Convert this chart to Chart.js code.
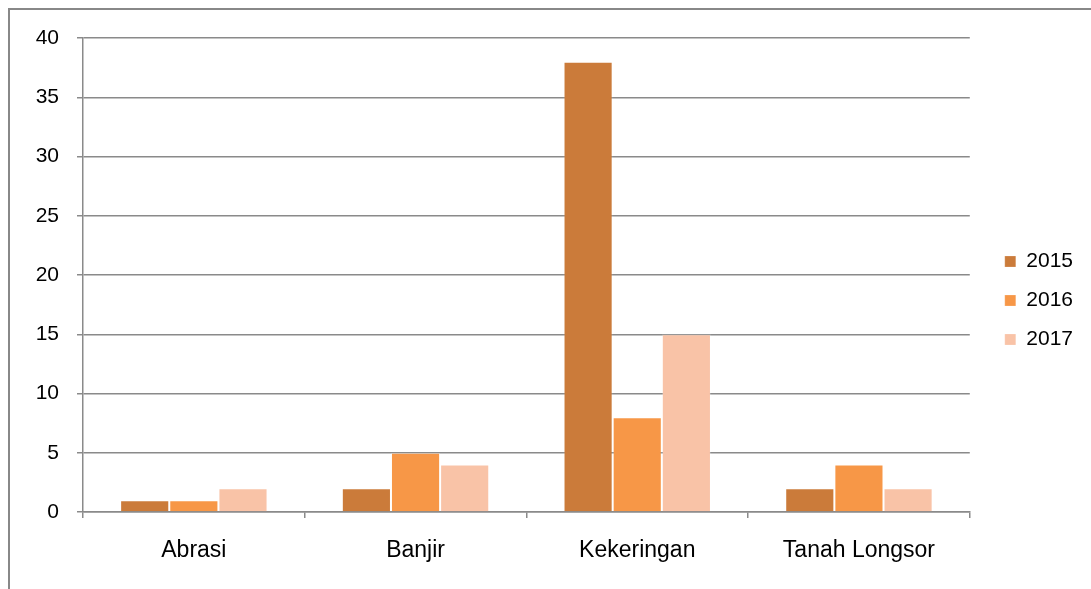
<!DOCTYPE html>
<html>
<head>
<meta charset="utf-8">
<script src="https://cdn.jsdelivr.net/npm/chart.js@4"></script>
<style>
    html, body { margin: 0; padding: 0; background: #fff; overflow: hidden; }
    #bingkai { position: absolute; left: 8px; top: 8px; width: 2000px; height: 2000px; border-left: 2px solid #888; border-top: 2px solid #888; }
    #grafikBencana { position: absolute; left: 0; top: 0; }
</style>
</head>
<body>
<div id="bingkai"></div>
<canvas id="grafikBencana" width="1091" height="589"></canvas>
<script>
// DATA --------------------------
const kategori = ["Abrasi", "Banjir", "Kekeringan", "Tanah Longsor"];
const tahun = ["2015", "2016", "2017"];
const data2015 = [1, 2, 38, 2];
const data2016 = [1, 5, 8, 4];
const data2017 = [2, 4, 15, 2];

const WARNA = {
    a: "#CB7B3A",
    b: "#F79747",
    c: "#F9C3A7",
};
const GARIS = "#8a8a8a";
const FONT = "'Liberation Sans', Arial, sans-serif";

// legend digeser sedikit ke kanan, seperti di gambar asli
const geserLegend = {
    id: "geserLegend",
    afterLayout(chart) {
        chart.legend.left += 17;
        chart.legend.right += 17;
    }
};

const dataset = (label, data, warna) => ({
    label: label,
    data: data,
    backgroundColor: warna,
    borderColor: "rgba(255, 255, 255, 0.2)",
    borderWidth: 1,
    categoryPercentage: 0.665,
    barPercentage: 1,
});

document.addEventListener("DOMContentLoaded", () => {
    const ctx = document.getElementById("grafikBencana").getContext("2d");
    new Chart(ctx, {
        type: "bar",
        data: {
            labels: kategori,
            datasets: [
                dataset(tahun[0], data2015, WARNA.a),
                dataset(tahun[1], data2016, WARNA.b),
                dataset(tahun[2], data2017, WARNA.c),
            ]
        },
        options: {
            responsive: false,
            animation: false,
            layout: { padding: { left: 0, top: 38, right: 25, bottom: 26 } },
            plugins: {
                legend: {
                    position: "right",
                    labels: {
                        boxWidth: 11,
                        boxHeight: 11,
                        padding: 18,
                        color: "#000",
                        font: { family: FONT, size: 21 },
                    },
                },
                tooltip: { enabled: false },
            },
            scales: {
                x: {
                    grid: { drawOnChartArea: false, drawTicks: true, tickLength: 6, color: GARIS, lineWidth: 1.5 },
                    border: { display: true, color: GARIS, width: 1.5 },
                    ticks: { color: "#000", padding: 19, font: { family: FONT, size: 23 } },
                    afterFit: (scale) => { scale.height = 51; },
                },
                y: {
                    min: 0,
                    max: 40,
                    grid: { color: GARIS, lineWidth: 1.5, tickLength: 6 },
                    border: { display: true, color: GARIS, width: 1.5 },
                    ticks: { stepSize: 5, color: "#000", padding: 18, font: { family: FONT, size: 21 } },
                    afterFit: (scale) => { scale.width = 83; },
                },
            },
        },
        plugins: [geserLegend],
    });
});
</script>
</body>
</html>
